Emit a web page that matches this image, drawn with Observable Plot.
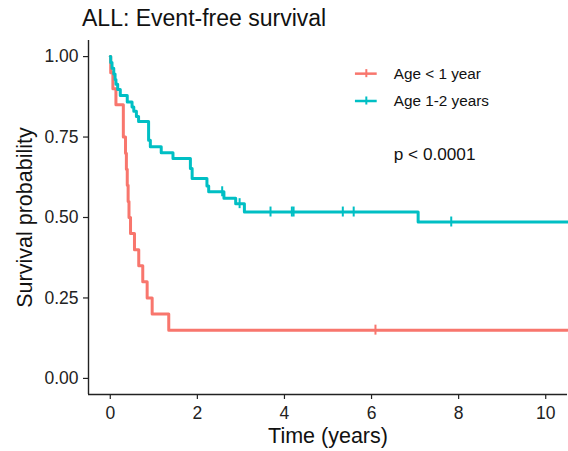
<!DOCTYPE html>
<html><head><meta charset="utf-8">
<script src="https://cdn.jsdelivr.net/npm/d3@7"></script>
<script src="https://cdn.jsdelivr.net/npm/@observablehq/plot@0.6"></script>
<style>
body{margin:0;background:#fff;font-family:"Liberation Sans",Arial,sans-serif}
#title{height:34px;position:relative}
#title span{position:absolute;left:82px;top:0;line-height:36px;font-size:23px;color:#111;white-space:nowrap}
</style></head><body>
<div id="title"><span>ALL: Event-free survival</span></div>
<div id="chart"></div>
<script>
// ---- data ----
const groups = ["Age < 1 year", "Age 1-2 years"];
const colors = ["#F8766D", "#00BFC4"];

// Age < 1 year: event times and survival after each step
const redTime = [0.01, 0.06, 0.13, 0.30, 0.30, 0.35, 0.37, 0.39, 0.41, 0.43, 0.465, 0.556, 0.654, 0.746, 0.847, 0.962, 1.343];
const redSurv = [0.95, 0.90, 0.85, 0.80, 0.75, 0.70, 0.65, 0.60, 0.55, 0.50, 0.45, 0.40, 0.35, 0.30, 0.25, 0.20, 0.15];
const redCensor = [6.09];

// Age 1-2 years
const tealTime = [0.01, 0.04, 0.08, 0.11, 0.13, 0.17, 0.23, 0.39, 0.50, 0.54, 0.60, 0.65, 0.88, 0.92, 1.17, 1.44, 1.84, 1.88, 2.22, 2.26, 2.61, 2.88, 3.08, 7.07];
const tealSurv = [0.982, 0.964, 0.946, 0.929, 0.914, 0.898, 0.879, 0.859, 0.843, 0.830, 0.814, 0.798, 0.740, 0.720, 0.701, 0.683, 0.652, 0.621, 0.598, 0.580, 0.560, 0.543, 0.517, 0.486];
const tealCensor = [2.57, 2.97, 3.68, 4.17, 4.21, 5.34, 5.59, 7.83];

const xTicks = [0, 2, 4, 6, 8, 10];
const yTicks = [0, 0.25, 0.5, 0.75, 1];
const xDomain = [-0.5, 10.5];
const yDomain = [-0.05, 1.05];
const pLabel = "p < 0.0001";
const legendY = [0.947, 0.862];
const legendX = 6.51;
const legendKey = [5.63, 6.13];
const pPos = [6.51, 0.696];

// ---- build ----
function curve(times, surv) {
  const pts = [{t: 0, s: 1}];
  times.forEach((t, i) => pts.push({t, s: surv[i]}));
  pts.push({t: xDomain[1], s: surv[surv.length - 1]});
  return pts;
}
function survAt(times, surv, t) {
  let s = 1;
  times.forEach((tt, i) => { if (tt <= t) s = surv[i]; });
  return s;
}
const series = [
  {pts: curve(redTime, redSurv), cens: redCensor.map(t => ({t, s: survAt(redTime, redSurv, t)}))},
  {pts: curve(tealTime, tealSurv), cens: tealCensor.map(t => ({t, s: survAt(tealTime, tealSurv, t)}))}
];
const font = "Liberation Sans, Arial, sans-serif";
const marks = [
  Plot.axisX({ticks: xTicks, tickSize: 5, tickPadding: 7, fontSize: 17.5, label: null, strokeWidth: 1.2}),
  Plot.axisY({ticks: yTicks, tickFormat: d3.format(".2f"), tickSize: 5, tickPadding: 5, fontSize: 17.5, label: null, strokeWidth: 1.2}),
  Plot.ruleX([xDomain[0]], {stroke: "#222", strokeWidth: 1.4}),
  Plot.ruleY([yDomain[0]], {stroke: "#222", strokeWidth: 1.4}),
  Plot.text(["Time (years)"], {text: d => d, frameAnchor: "bottom", dy: 42, fontSize: 21.5, textAnchor: "middle", lineAnchor: "middle", fill: "#111"}),
  Plot.text(["Survival probability"], {text: d => d, frameAnchor: "left", dx: -63, rotate: -90, fontSize: 21.5, textAnchor: "middle", lineAnchor: "middle", fill: "#111"})
];
series.forEach((sr, i) => {
  marks.push(Plot.line(sr.pts, {x: "t", y: "s", curve: "step-after", stroke: colors[i], strokeWidth: 3}));
  marks.push(Plot.ruleX(sr.cens, {x: "t", y1: d => d.s - 0.0155, y2: d => d.s + 0.0155, stroke: colors[i], strokeWidth: 2}));
  // legend
  marks.push(Plot.ruleY([legendY[i]], {y: d => d, x1: legendKey[0], x2: legendKey[1], stroke: colors[i], strokeWidth: 2.5}));
  marks.push(Plot.ruleX([(legendKey[0] + legendKey[1]) / 2], {x: d => d, y1: legendY[i] - 0.0125, y2: legendY[i] + 0.0125, stroke: colors[i], strokeWidth: 2}));
  marks.push(Plot.text([groups[i]], {text: d => d, x: legendX, y: legendY[i], textAnchor: "start", fontSize: 15.3, fill: "#111"}));
});
marks.push(Plot.text([pLabel], {text: d => d, x: pPos[0], y: pPos[1], textAnchor: "start", fontSize: 17.2, fill: "#111"}));

const chart = Plot.plot({
  width: 568, height: 417,
  marginLeft: 88, marginRight: 1, marginTop: 6, marginBottom: 57,
  x: {domain: xDomain},
  y: {domain: yDomain},
  style: {fontFamily: font, background: "white", color: "#222", overflow: "visible"},
  marks
});
document.getElementById("chart").appendChild(chart);
</script>
</body></html>
